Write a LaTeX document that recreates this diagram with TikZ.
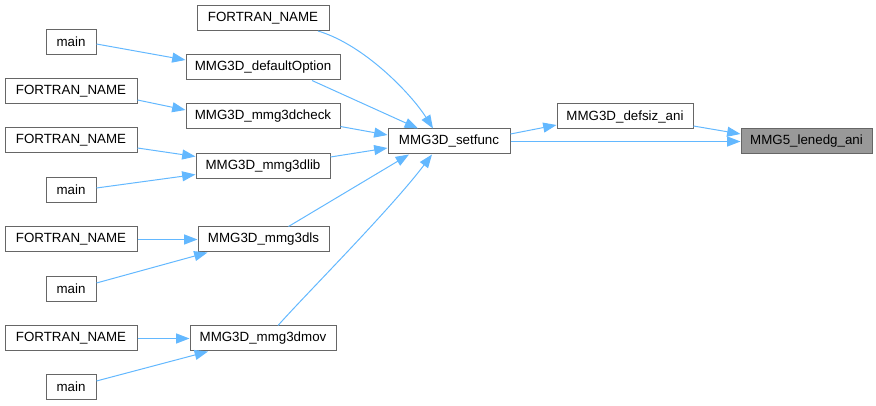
\documentclass[tikz,border=0pt]{standalone}
\usepackage{fontspec}
\setmainfont{Liberation Sans}
\usepackage{tikz}
\usetikzlibrary{arrows.meta}
\usetikzlibrary{calc}
\definecolor{edgeblue}{HTML}{63B8FF}
\definecolor{boxgray}{HTML}{666666}
\tikzset{callbox/.style={draw=boxgray, line width=0.75pt, fill=white, inner sep=0pt,
        minimum height=18.75pt, font=\fontsize{10}{12}\selectfont}}
\newcommand{\callarrow}{\draw[edgeblue, line width=0.75pt, -{Triangle[length=10pt, width=7.5pt]}]}

\begin{document}
\begin{tikzpicture}[x=0.75pt, y=-0.75pt]
    \useasboundingbox (0,0) rectangle (876,406);

    % Draw boxes
    \node[callbox, fill=black!40, minimum width=98.25pt] (lenedg) at (806.5,141.5) {MMG5\_lenedg\_ani};
    \node[callbox, minimum width=102pt] (defsiz) at (625,116.5) {MMG3D\_defsiz\_ani};
    \node[callbox, minimum width=91.5pt] (setfunc) at (449,141.5) {MMG3D\_setfunc};

    \node[callbox, minimum width=99pt] (fn0) at (263,18) {FORTRAN\_NAME};
    \node[callbox, minimum width=115.5pt] (defopt) at (263,67.5) {MMG3D\_defaultOption};
    \node[callbox, minimum width=115.5pt] (check) at (263,116.5) {MMG3D\_mmg3dcheck};
    \node[callbox, minimum width=100.5pt] (lib) at (263,166) {MMG3D\_mmg3dlib};
    \node[callbox, minimum width=98.25pt] (ls) at (263.5,239.5) {MMG3D\_mmg3dls};
    \node[callbox, minimum width=109.5pt] (mov) at (263,338.5) {MMG3D\_mmg3dmov};

    \node[callbox, minimum width=37.5pt] (main1) at (71,42) {main};
    \node[callbox, minimum width=99pt] (fn1) at (71,91.5) {FORTRAN\_NAME};
    \node[callbox, minimum width=99pt] (fn2) at (71,140.5) {FORTRAN\_NAME};
    \node[callbox, minimum width=37.5pt] (main2) at (71,190) {main};
    \node[callbox, minimum width=99pt] (fn3) at (71,239.5) {FORTRAN\_NAME};
    \node[callbox, minimum width=37.5pt] (main3) at (71,289) {main};
    \node[callbox, minimum width=99pt] (fn4) at (71,338.5) {FORTRAN\_NAME};
    \node[callbox, minimum width=37.5pt] (main4) at (71,387) {main};

    % Draw calls into MMG3D_setfunc
    \callarrow ($(fn0.south)+(55,0)$) .. controls (365,45) and (412,95) .. ($(setfunc.north)+(-16,0)$);
    \callarrow ($(defopt.south)+(49,0)$) -- ($(setfunc.north)+(-31,0)$);
    \callarrow ($(check.east)+(0,10)$) -- ($(setfunc.west)+(0,-6.5)$);
    \callarrow ($(lib.east)+(0,-9)$) -- ($(setfunc.west)+(0,6.5)$);
    \callarrow ($(ls.north)+(25,0)$) -- ($(setfunc.south)+(-40,0)$);
    \callarrow ($(mov.north)+(15,0)$) .. controls (305,295) and (390,210) .. ($(setfunc.south)+(-17,0)$);

    % Draw calls from the left column
    \callarrow ($(main1.east)+(0,2)$) -- ($(defopt.west)+(0,-7.5)$);
    \callarrow ($(fn1.east)+(0,8.5)$) -- ($(check.west)+(0,-6.5)$);
    \callarrow ($(fn2.east)+(0,7.5)$) -- ($(lib.west)+(0,-9.5)$);
    \callarrow ($(main2.east)+(0,-2)$) -- ($(lib.west)+(0,8.5)$);
    \callarrow (fn3.east) -- (ls.west);
    \callarrow ($(main3.east)+(0,-6)$) -- ($(ls.south)+(-56,0)$);
    \callarrow (fn4.east) -- (mov.west);
    \callarrow ($(main4.east)+(0,-6)$) -- ($(mov.south)+(-55,0)$);

    % Draw calls into MMG5_lenedg_ani
    \callarrow ($(setfunc.east)+(0,-7.5)$) -- ($(defsiz.west)+(0,8.5)$);
    \callarrow (setfunc.east) -- (lenedg.west);
    \callarrow ($(defsiz.east)+(0,9.5)$) -- ($(lenedg.west)+(0,-7.5)$);
\end{tikzpicture}
\end{document}
